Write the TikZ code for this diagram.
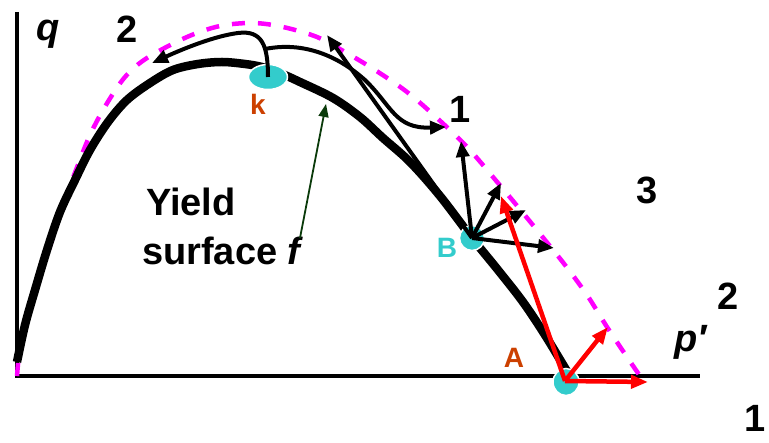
\documentclass[tikz,border=0pt]{standalone}
\usepackage{fontspec}
\setmainfont{Liberation Sans}
\usetikzlibrary{arrows.meta,shapes.geometric}
\definecolor{dotcyan}{RGB}{51,204,204}
\definecolor{lblorange}{RGB}{204,64,0}
\definecolor{pinkdash}{RGB}{255,0,255}
\definecolor{darkgreen}{RGB}{10,58,10}
\tikzset{
  axisline/.style={line width=4pt},
  yieldline/.style={line width=8.5pt, line join=round},
  dashcurve/.style={pinkdash, line width=4.5pt, dash pattern=on 13pt off 13pt},
  blkarrow/.style={line width=4pt, -{Triangle[length=16pt,width=13pt]}},
  redarrow/.style={red, line width=4.5pt, -{Triangle[length=17pt,width=13pt]}},
  grnarrow/.style={darkgreen, line width=1.8pt, -{Triangle[length=13pt,width=10pt]}},
  dot/.style={ellipse, fill=dotcyan, draw=white, line width=1.5pt, inner sep=0pt},
  bigtxt/.style={font=\fontsize{38}{40}\selectfont\bfseries, inner sep=0pt},
  smalltxt/.style={font=\fontsize{28}{30}\selectfont\bfseries, inner sep=0pt}
}
\begin{document}
\begin{tikzpicture}[x=1pt,y=-1pt]
\useasboundingbox (0,0) rectangle (769,443);
% axes
\coordinate (origin) at (17,376);
\coordinate (qtop) at (17,12);
\coordinate (pend) at (700,376);
\draw[axisline] (qtop) -- (origin) -- (pend);
% magenta dashed outer yield surface
\draw[dashcurve] plot[smooth,tension=0.55] coordinates {(17,376) (20,345) (25,322) (33,298) (42,270) (52,240) (63,205) (76,170) (90,135) (106,105) (125,77) (147,58) (187,37) (220,26) (253,23) (283,27) (317,37) (345,52) (375,70) (407,92) (437,118) (468,148) (498,183) (523,213) (545,240) (565,265) (587,295) (607,327) (627,357) (640,376)};
% thick yield surface
\draw[yieldline] plot[smooth,tension=0.55] coordinates {(17,362) (25,325) (35,290) (47,250) (60,212) (75,180) (90,150) (108,122) (127,100) (150,83) (173,70) (198,64) (222,62) (245,64) (262,67) (280,73) (300,82) (333,98) (360,117) (383,138) (410,162) (440,196) (472,238) (498,270) (523,302) (545,335) (568,373)};
% state points
\node[dot, minimum width=39pt, minimum height=25pt] (k) at (268,77) {};
\node[dot, minimum width=25pt, minimum height=25pt] (B) at (472,238) {};
\node[dot, minimum width=26pt, minimum height=27pt] (A) at (566,382) {};
% arrows from k
\coordinate (kstem) at (265,49);
\coordinate (k2) at (152,63);
\coordinate (k1) at (446,127);
\draw[blkarrow] (k.center) .. controls (268,45) and (262,30) .. (238,33) .. controls (215,36) and (185,48) .. (k2);
\draw[blkarrow] (kstem) .. controls (310,40) and (345,62) .. (365,80) .. controls (392,106) and (395,129) .. (k1);
% arrows from B
\coordinate (b1) at (327,35);
\coordinate (b2) at (461,141);
\coordinate (b3) at (501,183);
\coordinate (b4) at (526,210);
\coordinate (b5) at (554,248);
\foreach \t in {b1,b2,b3,b4,b5} \draw[blkarrow] (B.center) -- (\t);
% red arrows from A
\coordinate (a0) at (565,381);
\coordinate (r1) at (501,196);
\coordinate (r2) at (608,327);
\coordinate (r3) at (648,382);
\foreach \t in {r1,r2,r3} \draw[redarrow] (a0) -- (\t);
% labels
\node[bigtxt, anchor=base] (qlbl) at (48,41) {\itshape q};
\node[bigtxt, anchor=base] (n2a) at (127,43) {2};
\node[bigtxt, anchor=base] (n1a) at (460,123) {1};
\node[bigtxt, anchor=base] (n3) at (647,204) {3};
\node[bigtxt, anchor=base] (n2b) at (728,310) {2};
\node[bigtxt, anchor=base west] (plbl) at (674,352) {\itshape p′};
\node[bigtxt, anchor=base east] (n1b) at (766,432) {1};
\node[bigtxt, anchor=base west] (yld) at (146,216) {Yield};
\node[bigtxt, anchor=base west] (surf) at (142,265) {surface \itshape f};
\node[smalltxt, anchor=base, text=lblorange] (klbl) at (258,115) {k};
\node[smalltxt, anchor=base, text=dotcyan] (Blbl) at (447,258) {B};
\node[smalltxt, anchor=base, text=lblorange] (Albl) at (514,368) {A};
% pointer to yield surface
\coordinate (ftip) at (326,104);
\draw[grnarrow] (300,238) -- (ftip);
\end{tikzpicture}
\end{document}
